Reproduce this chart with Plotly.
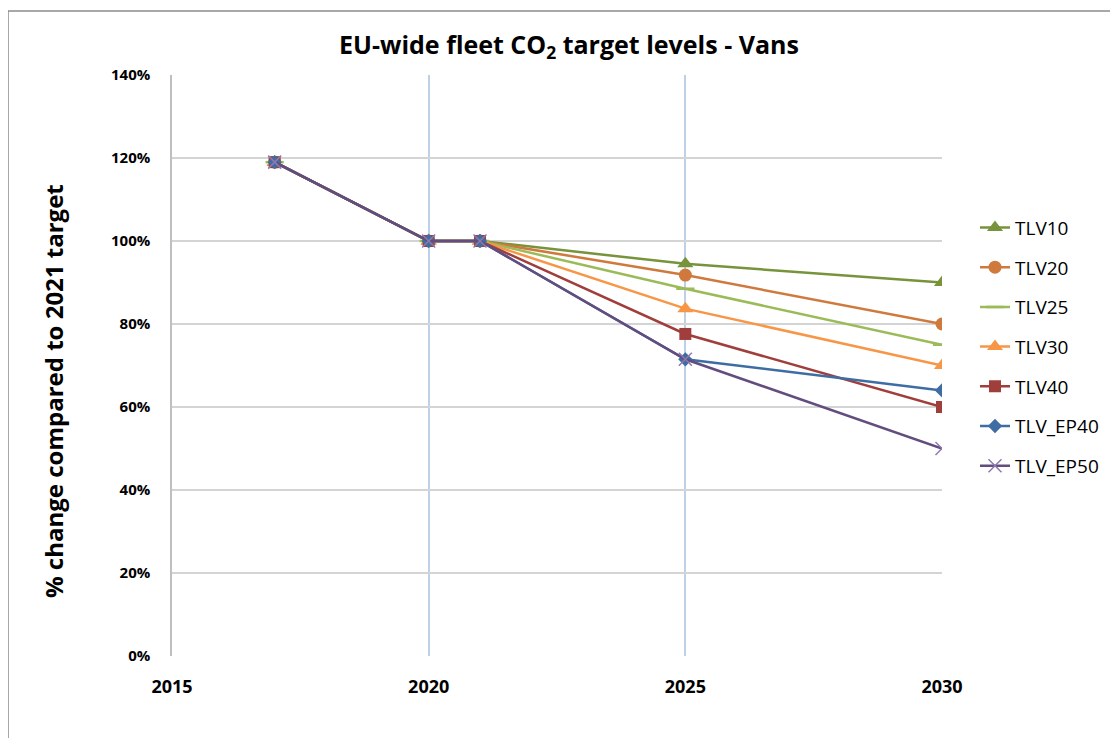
import plotly.graph_objects as go

years = [2017, 2020, 2021, 2025, 2030]
series_names = ["TLV10", "TLV20", "TLV25", "TLV30", "TLV40", "TLV_EP40", "TLV_EP50"]
tlv10 = [1.19, 1.00, 1.00, 0.945, 0.90]
tlv20 = [1.19, 1.00, 1.00, 0.918, 0.80]
tlv25 = [1.19, 1.00, 1.00, 0.885, 0.75]
tlv30 = [1.19, 1.00, 1.00, 0.837, 0.70]
tlv40 = [1.19, 1.00, 1.00, 0.776, 0.60]
tlv_ep40 = [1.19, 1.00, 1.00, 0.715, 0.64]
tlv_ep50 = [1.19, 1.00, 1.00, 0.715, 0.50]
y_ticks = [0, 0.2, 0.4, 0.6, 0.8, 1.0, 1.2, 1.4]
x_ticks = [2015, 2020, 2025, 2030]

values = [tlv10, tlv20, tlv25, tlv30, tlv40, tlv_ep40, tlv_ep50]
colors = ["#77933C", "#CF7A3C", "#9BBB59", "#F79646", "#A03E3B", "#3E6DA3", "#634C7E"]
symbols = ["triangle-up", "circle", "line-ew", "triangle-up", "square", "diamond", "x-thin"]
msizes = [14, 13, 13, 14, 12, 11, 13]

FONT = "Open Sans, Liberation Sans, sans-serif"

fig = go.Figure()
for i, (name, vals) in enumerate(zip(series_names, values)):
    sym = symbols[i]
    marker = dict(symbol=sym, size=msizes[i], color=colors[i])
    if sym in ("line-ew", "x-thin"):
        lc = colors[i] if sym == "line-ew" else "#8E7AAE"
        marker = dict(symbol=sym + "-open", size=msizes[i], color=lc,
                      line=dict(color=lc, width=2.5 if sym == "line-ew" else 1.5))
    fig.add_trace(go.Scatter(
        x=years, y=vals, name=name, mode="lines+markers",
        line=dict(color=colors[i], width=2.5),
        marker=marker, legendgroup=name,
    ))

# page body has an 8px default margin; compensate
W, H = 1110, 730
L, T = 164, 67
PW, PH = 770, 581
fig.update_layout(
    width=W, height=H,
    paper_bgcolor="white", plot_bgcolor="white",
    margin=dict(l=L, r=W - L - PW, t=T, b=H - T - PH),
    font=dict(family=FONT, color="black"),
    title=dict(text="<b>EU-wide fleet CO<sub>2</sub> target levels - Vans</b>",
               x=(569 - 172) / PW, xanchor="center", xref="paper",
               y=1 - 37 / H, yanchor="middle",
               font=dict(size=25, family=FONT)),
    showlegend=True,
    legend=dict(x=(975 - 172) / PW, xanchor="left", y=0.77, yanchor="top",
                font=dict(size=19, family=FONT),
                tracegroupgap=12, itemwidth=30, bgcolor="rgba(0,0,0,0)"),
    annotations=[dict(text="<b>% change compared to 2021 target</b>",
                      xref="paper", yref="paper",
                      x=(54 - 172) / PW, y=(656 - 391) / PH,
                      xanchor="center", yanchor="middle", textangle=-90,
                      showarrow=False, font=dict(size=24, family=FONT))],
)
fig.update_xaxes(range=[2015, 2030], tickvals=x_ticks,
                 ticktext=["<b>%d</b>" % v for v in x_ticks],
                 showgrid=True, gridcolor="#BDD0E8", gridwidth=1.5,
                 showline=False, zeroline=False, ticks="", automargin=False,
                 tickfont=dict(size=18, family=FONT),
                 ticklabelstandoff=18)
fig.update_yaxes(range=[0, 1.4], tickvals=y_ticks,
                 ticktext=["<b>%d%%</b>" % round(v * 100) for v in y_ticks],
                 showgrid=True, gridcolor="#D4D4D4", gridwidth=1.5,
                 showline=True, linecolor="#BFBFBF", linewidth=1.5, zeroline=False, ticks="",
                 automargin=False,
                 tickfont=dict(size=15, family=FONT),
                 ticklabelstandoff=17)

fig.add_shape(type="rect", xref="paper", yref="paper",
              x0=(0 - L) / PW, x1=(1130 - L) / PW,
              y0=(T + PH - 750) / PH, y1=(T + PH - 3) / PH,
              line=dict(color="#8C8C8C", width=1.5), fillcolor="rgba(0,0,0,0)", layer="below")

fig.write_html("out.html")
